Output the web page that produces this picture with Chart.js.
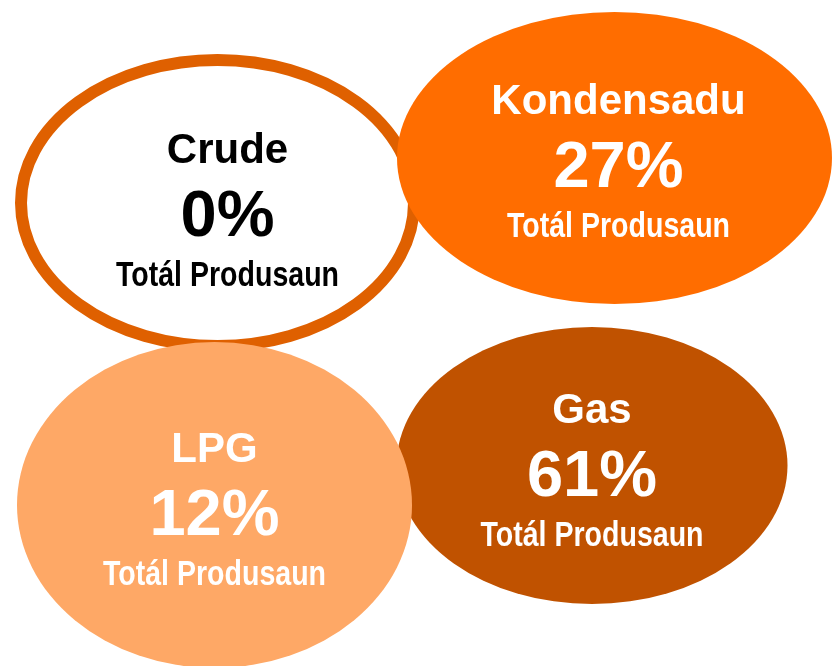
<!DOCTYPE html>
<html>
<head>
<meta charset="utf-8">
<script src="https://cdn.jsdelivr.net/npm/chart.js@4/dist/chart.umd.min.js"></script>
<style>
  html, body { margin: 0; padding: 0; background: #ffffff; }
  #wrap { width: 832px; height: 666px; }
</style>
</head>
<body>
<div id="wrap"><canvas id="c" width="832" height="666"></canvas></div>
<script>
// ---- data ----
const categories = ['Crude', 'Kondensadu', 'Gas', 'LPG'];
const shares = [0, 27, 61, 12];
const subLabel = 'Totál Produsaun';

// ---- layout (positions / sizes, in canvas units) ----
const centerX = [217.5, 614.5, 592, 214.5];
const centerY = [203, 158, 465.5, 505];
const radiusX = [196.5, 217.5, 195.5, 197.5];
const radiusY = [143, 146, 138.5, 163];
const labelDX = [10, 4, 0, 0];
const labelDY = [3, -1, 0, 0];

// ---- styles ----
const fills = ['#ffffff', '#FF6D00', '#C05200', '#FEA866'];
const strokes = ['#DF6000', null, null, null];
const textColors = ['#000000', '#ffffff', '#ffffff', '#ffffff'];

const ellipsePlugin = {
  id: 'ellipses',
  afterDatasetsDraw(chart) {
    const ctx = chart.ctx;
    const meta = chart.getDatasetMeta(0);
    const xs = chart.scales.x, ys = chart.scales.y;
    const sx = v => Math.abs(xs.getPixelForValue(v) - xs.getPixelForValue(0));
    const sy = v => Math.abs(ys.getPixelForValue(v) - ys.getPixelForValue(0));
    // shapes
    meta.data.forEach((pt, i) => {
      ctx.save();
      ctx.beginPath();
      ctx.ellipse(pt.x, pt.y, sx(radiusX[i]), sy(radiusY[i]), 0, 0, Math.PI * 2);
      ctx.fillStyle = fills[i];
      ctx.fill();
      if (strokes[i]) {
        ctx.lineWidth = 12;
        ctx.strokeStyle = strokes[i];
        ctx.stroke();
      }
      ctx.restore();
    });
    // labels
    meta.data.forEach((pt, i) => {
      const tx = pt.x + labelDX[i];
      const ty = pt.y + labelDY[i];
      ctx.save();
      ctx.fillStyle = textColors[i];
      ctx.textAlign = 'center';
      ctx.textBaseline = 'alphabetic';
      ctx.font = 'bold 42px "Liberation Sans", Arial, sans-serif';
      ctx.fillText(categories[i], tx, ty - 43);
      ctx.font = 'bold 65px "Liberation Sans", Arial, sans-serif';
      ctx.fillText(shares[i] + '%', tx, ty + 30);
      ctx.font = 'bold 35px "Liberation Sans Narrow", "Arial Narrow", "Liberation Sans", sans-serif';
      const w = ctx.measureText(subLabel).width;
      const k = 223 / w;
      ctx.translate(tx, ty + 80);
      ctx.scale(k, 1);
      ctx.fillText(subLabel, 0, 0);
      ctx.restore();
    });
  }
};

new Chart(document.getElementById('c'), {
  type: 'scatter',
  data: {
    labels: categories,
    datasets: [{
      label: 'Totál Produsaun',
      data: categories.map((c, i) => ({ x: centerX[i], y: centerY[i], share: shares[i] })),
      pointRadius: 0,
      pointHoverRadius: 0
    }]
  },
  options: {
    responsive: false,
    animation: false,
    layout: { padding: 0 },
    plugins: { legend: { display: false }, tooltip: { enabled: false } },
    events: [],
    scales: {
      x: { type: 'linear', min: 0, max: 832, display: false },
      y: { type: 'linear', min: 0, max: 666, reverse: true, display: false }
    }
  },
  plugins: [ellipsePlugin]
});
</script>
</body>
</html>
